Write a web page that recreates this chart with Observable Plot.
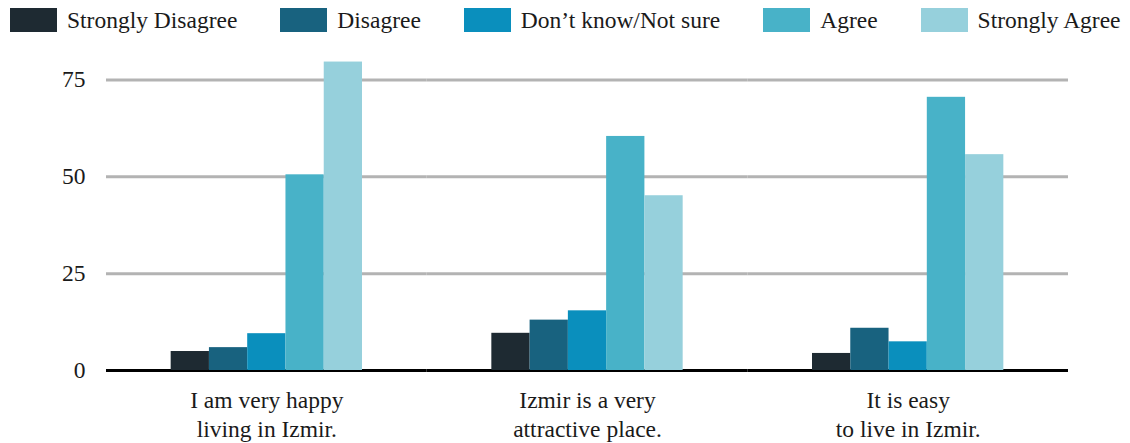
<!DOCTYPE html>
<html>
<head>
<meta charset="utf-8">
<script src="https://cdn.jsdelivr.net/npm/d3@7"></script>
<script src="https://cdn.jsdelivr.net/npm/@observablehq/plot@0.6"></script>
<style>
  html, body { margin: 0; padding: 0; background: #fff; }
  body { width: 1130px; height: 443px; overflow: hidden; font-family: "Liberation Serif", "Times New Roman", serif; color: #1a1a1a; }
  #legend { display: flex; align-items: center; height: 40px; padding-left: 10px; gap: 43px; font-size: 23.5px; }
  #legend .item { display: flex; align-items: center; gap: 10px; white-space: nowrap; }
  #legend .swatch { width: 47px; height: 24px; display: inline-block; }
  #chart svg text { font-family: "Liberation Serif", "Times New Roman", serif; }
</style>
</head>
<body>
<div id="legend"></div>
<div id="chart"></div>
<script>
// Survey statements (x groups), answer categories and their colours
const questions = [
  "I am very happy\nliving in Izmir.",
  "Izmir is a very\nattractive place.",
  "It is easy\nto live in Izmir."
];
const responses = ["Strongly Disagree", "Disagree", "Don’t know/Not sure", "Agree", "Strongly Agree"];
const colors = ["#1e2a32", "#18627f", "#0a8fbd", "#48b2c8", "#96d0dc"];

// One value per statement, for each answer category
const stronglyDisagree = [4.9, 9.6, 4.4];
const disagree = [5.9, 13.0, 10.9];
const dontKnow = [9.5, 15.4, 7.4];
const agree = [50.5, 60.4, 70.5];
const stronglyAgree = [79.6, 45.1, 55.7];

const yTicks = [0, 25, 50, 75];

const series = [stronglyDisagree, disagree, dontKnow, agree, stronglyAgree];
const data = [];
questions.forEach((q, i) => {
  responses.forEach((r, j) => data.push({question: q, response: r, value: series[j][i]}));
});

// Legend row above the chart
const legend = document.getElementById("legend");
responses.forEach((r, j) => {
  const item = document.createElement("div");
  item.className = "item";
  const sw = document.createElement("span");
  sw.className = "swatch";
  sw.style.background = colors[j];
  const label = document.createElement("span");
  label.textContent = r;
  item.append(sw, label);
  legend.append(item);
});

const chart = Plot.plot({
  width: 1130,
  height: 403,
  marginTop: 20,
  marginBottom: 73,
  marginLeft: 106,
  marginRight: 62,
  style: {fontFamily: "'Liberation Serif', 'Times New Roman', serif", fontSize: "23.5px", color: "#1a1a1a", background: "#fff"},
  fx: {domain: questions, padding: 0, round: false},
  x: {domain: responses, paddingInner: 0, paddingOuter: 1.69, round: false, axis: null},
  y: {domain: [0, 80]},
  color: {domain: responses, range: colors},
  marks: [
    Plot.ruleY(yTicks.filter(d => d > 0), {stroke: "#b3b3b3", strokeWidth: 3}),
    Plot.ruleY([0], {stroke: "#000", strokeWidth: 3}),
    Plot.barY(data, {fx: "question", x: "response", y: "value", fill: "response"}),
    Plot.axisY({ticks: yTicks, tickSize: 0, tickPadding: 21, label: null}),
    Plot.axisFx({anchor: "bottom", tickSize: 0, tickPadding: 17, lineHeight: 1.23, label: null})
  ]
});
document.getElementById("chart").append(chart);
</script>
</body>
</html>
